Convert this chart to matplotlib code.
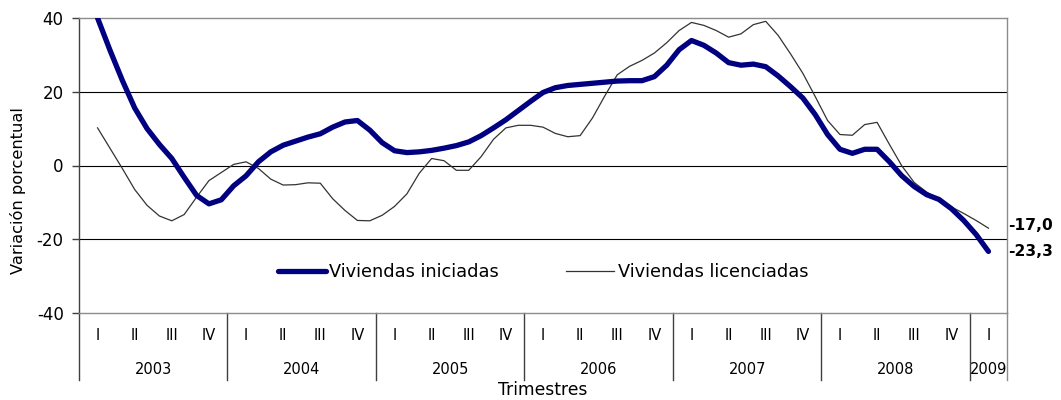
import numpy as np
import matplotlib
matplotlib.use('Agg')
import matplotlib.pyplot as plt

# monthly values, Feb 2003 .. Feb 2009 (centre of 2003 I to centre of 2009 I)
iniciadas = [
    40.0, 31.3, 23.1, 15.6, 10.0, 5.7, 1.9, -3.2, -8.1, -10.4, -9.3, -5.5,
    -2.8, 1.0, 3.7, 5.5, 6.6, 7.7, 8.6, 10.4, 11.8, 12.2, 9.6, 6.2,
    4.0, 3.5, 3.7, 4.1, 4.7, 5.4, 6.4, 8.1, 10.2, 12.4, 14.9, 17.4,
    19.8, 21.1, 21.7, 22.0, 22.3, 22.6, 22.9, 23.0, 23.0, 24.1, 27.2, 31.4,
    33.9, 32.6, 30.5, 27.9, 27.2, 27.5, 26.8, 24.3, 21.4, 18.3, 13.8, 8.4,
    4.4, 3.3, 4.4, 4.4, 1.0, -2.8, -5.7, -7.9, -9.2, -11.7, -14.9, -18.7,
    -23.3,
]
licenciadas = [
    10.2, 4.7, -0.8, -6.5, -10.8, -13.7, -15.0, -13.3, -8.6, -4.1, -1.9, 0.3,
    1.0, -0.8, -3.7, -5.3, -5.2, -4.7, -4.8, -9.0, -12.2, -14.9, -15.0, -13.5,
    -11.1, -7.7, -2.1, 1.9, 1.3, -1.3, -1.3, 2.4, 7.1, 10.2, 10.9, 10.9,
    10.4, 8.7, 7.8, 8.1, 12.9, 18.9, 24.6, 26.9, 28.5, 30.5, 33.3, 36.6,
    38.8, 38.0, 36.6, 34.8, 35.7, 38.2, 39.1, 35.3, 30.3, 25.0, 18.7, 12.2,
    8.4, 8.2, 11.1, 11.7, 5.7, -0.1, -4.6, -7.2, -9.2, -11.2, -13.0, -14.9,
    -17.0,
]
years = ['2003', '2004', '2005', '2006', '2007', '2008', '2009']
quarters = ['I', 'II', 'III', 'IV']
n_quarters = 25
end_labels = ['-17,0', '-23,3']

plt.rcParams['font.family'] = ['DejaVu Sans']

fig = plt.figure(figsize=(10.61, 4.0), dpi=100)
ax = fig.add_axes([79 / 1061, 1 - 313 / 400, 928 / 1061, 295 / 400])

x = 0.5 + np.arange(len(iniciadas)) / 3.0

ax.plot(x, iniciadas, color='#000080', lw=3.8, solid_capstyle='round',
        solid_joinstyle='round', label='Viviendas iniciadas', zorder=4)
ax.plot(x, licenciadas, color='#333333', lw=0.9, solid_joinstyle='round',
        label='Viviendas licenciadas', zorder=3)

ax.set_xlim(0, n_quarters)
ax.set_ylim(-40, 40)
ax.set_yticks([-40, -20, 0, 20, 40])
ax.set_yticklabels(['-40', '-20', '0', '20', '40'], fontsize=12)
ax.tick_params(axis='y', length=5, width=1, color='#404040', pad=6)
ax.set_xticks([])

for v in (-20, 0, 20):
    ax.axhline(v, color='black', lw=0.8, zorder=1)

ax.spines['top'].set_color('#8c8c8c')
ax.spines['right'].set_color('#8c8c8c')
ax.spines['bottom'].set_color('#8c8c8c')
ax.spines['left'].set_color('#404040')
for s in ax.spines.values():
    s.set_linewidth(1.0)

# category axis (quarters and years)
trans = ax.get_xaxis_transform()
for i in range(n_quarters):
    ax.text(i + 0.5, -0.075, quarters[i % 4], transform=trans,
            ha='center', va='center', fontsize=10.5)
for j, yr in enumerate(years):
    start = 4 * j
    end = min(4 * j + 4, n_quarters)
    ax.text((start + end) / 2, -0.19, yr, transform=trans,
            ha='center', va='center', fontsize=10.5)
for b in [0, 4, 8, 12, 16, 20, 24]:
    ax.plot([b, b], [0, -0.228], transform=trans, color='#404040',
            lw=1.0, clip_on=False)
ax.plot([n_quarters, n_quarters], [0, -0.228], transform=trans,
        color='#8c8c8c', lw=1.0, clip_on=False)

ax.text(0.5, -0.26, 'Trimestres', transform=ax.transAxes,
        ha='center', va='center', fontsize=12.3)
fig.text(18 / 1061, 1 - 191 / 400, 'Variación porcentual', rotation=90,
         ha='center', va='center', fontsize=11.7)

# end values
ax.text(n_quarters + 0.03, licenciadas[-1] + 0.6, end_labels[0],
        ha='left', va='center', fontsize=11.2, fontweight='bold',
        clip_on=False)
ax.text(n_quarters + 0.03, iniciadas[-1], end_labels[1],
        ha='left', va='center', fontsize=11.2, fontweight='bold',
        clip_on=False)

ax.legend(loc='center', bbox_to_anchor=(0.5, 0.139), ncol=2,
          frameon=False, fontsize=12.8, handlelength=2.7,
          handletextpad=0.2, columnspacing=3.8, borderpad=0)

fig.savefig('out.png', dpi=100)
